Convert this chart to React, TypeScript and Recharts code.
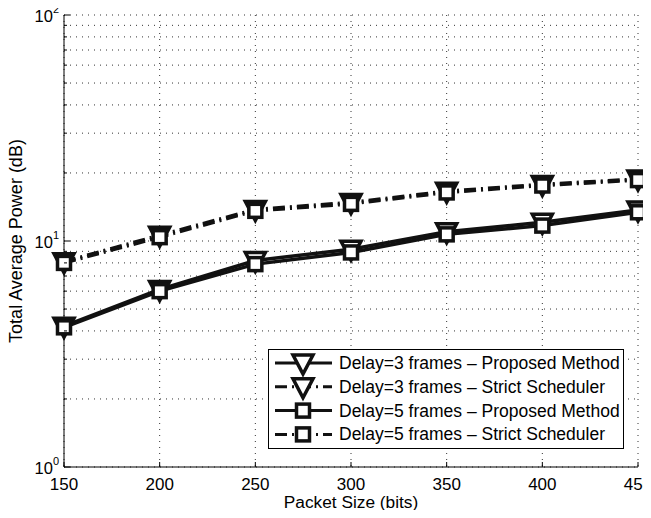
import React from "react";
import {
  LineChart,
  Line,
  XAxis,
  YAxis,
  CartesianGrid,
  Legend,
} from "recharts";

const packetSizes = [150, 200, 250, 300, 350, 400, 450];
const delay3Proposed = [4.2, 6.1, 8.2, 9.2, 11.0, 12.1, 13.7];
const delay3Strict = [8.1, 10.6, 13.8, 14.8, 16.6, 17.8, 18.8];
const delay5Proposed = [4.15, 6.0, 7.9, 8.9, 10.7, 11.7, 13.4];
const delay5Strict = [8.0, 10.4, 13.6, 14.6, 16.4, 17.6, 18.6];

const xTicks = [150, 200, 250, 300, 350, 400, 450];
const yTicks = [1, 2, 3, 4, 5, 6, 7, 8, 9, 10, 20, 30, 40, 50, 60, 70, 80, 90, 100];
const yMajor = [1, 10, 100];

const seriesNames = [
  "Delay=3 frames \u2013 Proposed Method",
  "Delay=3 frames \u2013 Strict Scheduler",
  "Delay=5 frames \u2013 Proposed Method",
  "Delay=5 frames \u2013 Strict Scheduler",
];

const data = packetSizes.map((x, i) => ({
  x,
  d3p: delay3Proposed[i],
  d3s: delay3Strict[i],
  d5p: delay5Proposed[i],
  d5s: delay5Strict[i],
}));

const FONT = "'Liberation Sans', Arial, Helvetica, sans-serif";
const DASHDOT = "12 5 2 5";
const INK = "#111";

function Triangle({ cx, cy }: { cx: number; cy: number }) {
  return (
    <path
      d={`M${cx - 10},${cy - 8} L${cx + 10},${cy - 8} L${cx},${cy + 11} Z`}
      fill="#fff"
      stroke={INK}
      strokeWidth={3.5}
    />
  );
}

function Square({ cx, cy }: { cx: number; cy: number }) {
  return (
    <rect x={cx - 6.5} y={cy - 6.5} width={13} height={13} fill="#fff" stroke={INK} strokeWidth={3.5} />
  );
}

const triDot = (p: any) => <Triangle key={`t-${p.index}`} cx={p.cx} cy={p.cy} />;
const sqDot = (p: any) => <Square key={`s-${p.index}`} cx={p.cx} cy={p.cy} />;

// y ticks, drawn inward, labels as 10^n
function YTickLeft(props: any) {
  const { x, y, payload } = props;
  const v = payload.value;
  const major = yMajor.includes(v);
  return (
    <g>
      <line x1={x} x2={x + (major ? 6 : 3)} y1={y} y2={y} stroke="#000" />
      {major && (
        <text x={x - 5} y={y + 7} textAnchor="end" fontSize={16.5} fill="#000" fontFamily={FONT}>
          10
          <tspan dy={-9} fontSize={11}>
            {Math.round(Math.log10(v))}
          </tspan>
        </text>
      )}
    </g>
  );
}

function YTickRight(props: any) {
  const { x, y, payload } = props;
  const major = yMajor.includes(payload.value);
  return <line x1={x} x2={x - (major ? 6 : 3)} y1={y} y2={y} stroke="#000" />;
}

function XTickBottom(props: any) {
  const { x, y, payload } = props;
  return (
    <g>
      <line x1={x} x2={x} y1={y} y2={y - 5} stroke="#000" />
      <text x={x} y={y + 22.5} textAnchor="middle" fontSize={17} fill="#000" fontFamily={FONT}>
        {payload.value}
      </text>
    </g>
  );
}

function XTickTop(props: any) {
  const { x, y } = props;
  return <line x1={x} x2={x} y1={y} y2={y + 5} stroke="#000" />;
}

function LegendBox() {
  const styles = [
    { dash: undefined, marker: "tri" },
    { dash: DASHDOT, marker: "tri" },
    { dash: undefined, marker: "sq" },
    { dash: DASHDOT, marker: "sq" },
  ];
  return (
    <svg width={356} height={100} style={{ display: "block" }}>
      <rect x={0.5} y={0.5} width={355} height={99} fill="#fff" stroke="#000" />
      {seriesNames.map((name, i) => {
        const cy = 14 + i * 23.8;
        const s = styles[i];
        return (
          <g key={name}>
            <line x1={7} x2={64} y1={cy} y2={cy} stroke={INK} strokeWidth={3} strokeDasharray={s.dash} />
            {s.marker === "tri" ? <Triangle cx={35} cy={cy} /> : <Square cx={35} cy={cy} />}
            <text x={71} y={cy + 6} fontSize={17.5} fill="#000" fontFamily={FONT}>
              {name}
            </text>
          </g>
        );
      })}
    </svg>
  );
}

export default function App() {
  return (
    <div
      style={{
        width: 651,
        height: 518,
        margin: -8,
        position: "relative",
        overflow: "hidden",
        fontFamily: FONT,
        background: "#fff",
      }}
    >
      <LineChart width={651} height={518} data={data} margin={{ top: 15, right: 13, left: 0, bottom: 0 }}>
        <CartesianGrid stroke="#333" strokeDasharray="1 5" />
        <XAxis
          dataKey="x"
          type="number"
          domain={[150, 450]}
          ticks={xTicks}
          interval={0}
          height={51}
          tickSize={0}
          tickMargin={0}
          stroke="#000"
          tick={<XTickBottom />}
          label={{ value: "Packet Size (bits)", position: "insideBottom", offset: 10, fontSize: 17.3, fill: "#000" }}
        />
        <XAxis
          xAxisId="top"
          orientation="top"
          dataKey="x"
          type="number"
          domain={[150, 450]}
          ticks={xTicks}
          interval={0}
          height={0}
          tickSize={0}
          tickMargin={0}
          stroke="#000"
          tick={<XTickTop />}
        />
        <YAxis
          type="number"
          scale="log"
          domain={[1, 100]}
          ticks={yTicks}
          interval={0}
          width={64}
          tickSize={0}
          tickMargin={0}
          stroke="#000"
          allowDataOverflow
          tick={<YTickLeft />}
          label={{
            value: "Total Average Power (dB)",
            angle: -90,
            position: "insideLeft",
            offset: 16,
            fontSize: 18,
            fill: "#000",
            style: { textAnchor: "middle" },
          }}
        />
        <YAxis
          yAxisId="r"
          orientation="right"
          type="number"
          scale="log"
          domain={[1, 100]}
          ticks={yTicks}
          interval={0}
          width={0}
          tickSize={0}
          tickMargin={0}
          stroke="#000"
          allowDataOverflow
          tick={<YTickRight />}
        />
        <Line dataKey="d3s" stroke={INK} strokeWidth={3.5} strokeDasharray={DASHDOT} dot={triDot} isAnimationActive={false} />
        <Line dataKey="d5s" stroke={INK} strokeWidth={3.5} strokeDasharray={DASHDOT} dot={sqDot} isAnimationActive={false} />
        <Line dataKey="d3p" stroke={INK} strokeWidth={3.5} dot={triDot} isAnimationActive={false} />
        <Line dataKey="d5p" stroke={INK} strokeWidth={3.5} dot={sqDot} isAnimationActive={false} />
        <Legend
          layout="vertical"
          align="center"
          verticalAlign="middle"
          wrapperStyle={{ left: 268, top: 349, width: 356, height: 100 }}
          content={() => <LegendBox />}
        />
      </LineChart>
    </div>
  );
}
